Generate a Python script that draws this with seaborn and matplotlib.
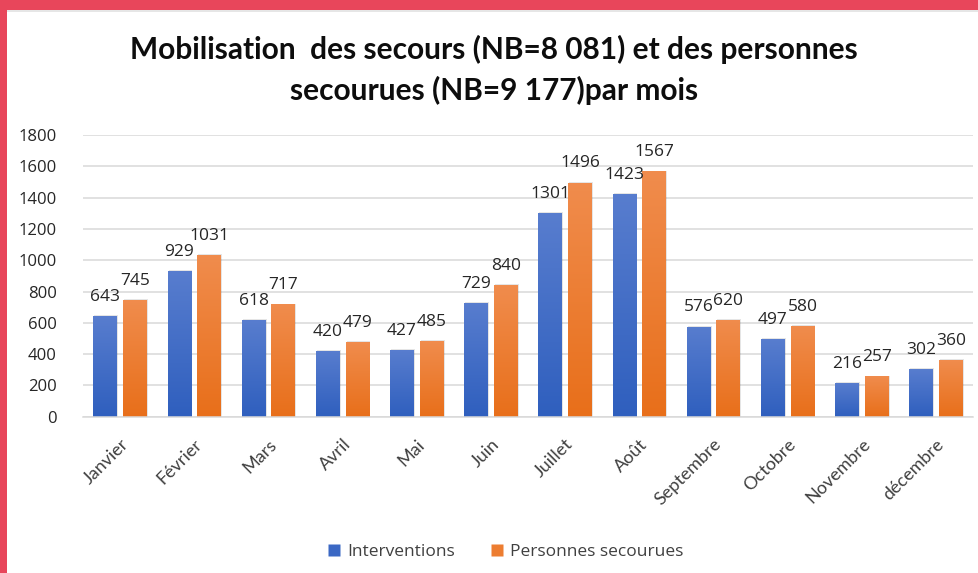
import numpy as np
import pandas as pd
import matplotlib
matplotlib.use("Agg")
import matplotlib.pyplot as plt
import seaborn as sns
from matplotlib.patches import Rectangle
from matplotlib.colors import LinearSegmentedColormap
from matplotlib.lines import Line2D

months = ["Janvier", "Février", "Mars", "Avril", "Mai", "Juin", "Juillet",
          "Août", "Septembre", "Octobre", "Novembre", "décembre"]
interventions = [643, 929, 618, 420, 427, 729, 1301, 1423, 576, 497, 216, 302]
personnes = [745, 1031, 717, 479, 485, 840, 1496, 1567, 620, 580, 257, 360]
series_names = ["Interventions", "Personnes secourues"]
yticks = [0, 200, 400, 600, 800, 1000, 1200, 1400, 1600, 1800]
title = "Mobilisation  des secours (NB=8 081) et des personnes\nsecourues (NB=9 177)par mois"

df = pd.DataFrame({
    "mois": months * 2,
    "serie": [series_names[0]] * len(months) + [series_names[1]] * len(months),
    "valeur": interventions + personnes,
})

sns.set_theme(style="white")
plt.rcParams["font.family"] = ["Open Sans", "DejaVu Sans"]

W, H = 979, 573
fig = plt.figure(figsize=(W / 100, H / 100), dpi=100)
fig.patch.set_facecolor("white")

ax = fig.add_axes([83 / W, (H - 416.7) / H, (973 - 83) / W, (416.7 - 135) / H])

blue_top, blue_bot = "#5c80d0", "#2f5fbe"
orange_top, orange_bot = "#f18f52", "#e86f1a"
palette = {series_names[0]: "#4472c4", series_names[1]: "#ed7d31"}

sns.barplot(data=df, x="mois", y="valeur", hue="serie", hue_order=series_names,
            order=months, palette=palette, gap=0.2, width=0.8, ax=ax,
            legend=False, errorbar=None, saturation=1)

ax.set_ylim(0, 1800)
ax.set_xlim(-0.5, len(months) - 0.5)
ax.set_yticks(yticks)
ax.set_yticklabels([str(t) for t in yticks], fontsize=12, color="#262626")
ax.yaxis.grid(True, color="#d9d9d9", linewidth=1.1)
ax.set_axisbelow(True)
for s in ["top", "right", "left"]:
    ax.spines[s].set_visible(False)
ax.spines["bottom"].set_color("#d9d9d9")
ax.spines["bottom"].set_linewidth(1.1)
ax.tick_params(axis="both", length=0)
ax.tick_params(axis="y", pad=19)
ax.set_xlabel("")
ax.set_ylabel("")
ax.set_xticks(range(len(months)))
ax.set_xticklabels(months, rotation=45, ha="right", rotation_mode="anchor",
                   fontsize=13, color="#404040", family=["Lato", "DejaVu Sans"])
ax.tick_params(axis="x", pad=14)

# gradient fills
cmaps = [LinearSegmentedColormap.from_list("b", [blue_bot, blue_top]),
         LinearSegmentedColormap.from_list("o", [orange_bot, orange_top])]
grad = np.linspace(0, 1, 256).reshape(-1, 1)
for ci, cont in enumerate(ax.containers):
    for p in cont.patches:
        x0, y0 = p.get_x(), p.get_y()
        w, h = p.get_width(), p.get_height()
        ax.add_patch(Rectangle((x0 + 0.015, y0), w, h + 6, facecolor="#000000",
                               alpha=0.10, edgecolor="none", zorder=1.5))
        p.set_facecolor("none")
        p.set_edgecolor("none")
        im = ax.imshow(grad, cmap=cmaps[ci], extent=[x0, x0 + w, y0, y0 + h],
                       origin="lower", aspect="auto", zorder=2, vmin=0, vmax=1.1)
        im.set_clip_path(p)
    ax.bar_label(cont, labels=[str(int(v)) for v in cont.datavalues], padding=8,
                 fontsize=12.5, color="#262626")

ax.set_ylim(0, 1800)
ax.set_xlim(-0.5, len(months) - 0.5)

fig.text(494 / W, 1 - 70 / H, title, ha="center", va="center", fontsize=21.5,
         fontweight="bold", linespacing=1.5, color="#0d0d0d",
         family=["Lato", "DejaVu Sans"])

handles = [Line2D([], [], marker="s", linestyle="none", markersize=9,
                  markerfacecolor=c, markeredgecolor="none")
           for c in ["#3b68c4", "#ed7d31"]]
fig.legend(handles, series_names, loc="center", bbox_to_anchor=(505 / W, 21 / H),
           ncol=2, frameon=False, handletextpad=0.3,
           columnspacing=2.0, handlelength=0.9, labelcolor="#404040",
           prop={"family": ["Open Sans", "DejaVu Sans"], "size": 12.5})

# red frame
fig.patches.append(Rectangle((0, 0), 7 / W, 1, transform=fig.transFigure,
                             facecolor="#e8465b", edgecolor="none", zorder=10))
fig.patches.append(Rectangle((0, 1 - 10 / H), 1, 10 / H, transform=fig.transFigure,
                             facecolor="#e8465b", edgecolor="none", zorder=10))
fig.patches.append(Rectangle((7 / W, 1 - 12 / H), 1, 2 / H, transform=fig.transFigure,
                             facecolor="#e6e6e6", edgecolor="none", zorder=9))

fig.savefig("out.png", dpi=100, facecolor="white")
